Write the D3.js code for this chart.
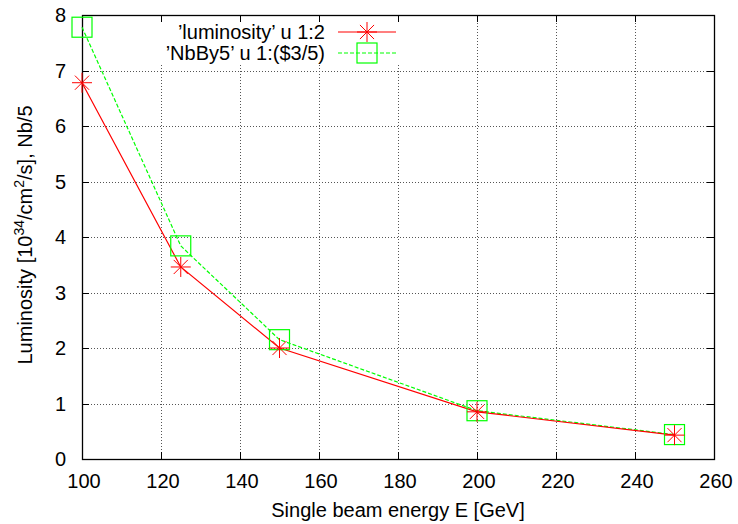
<!DOCTYPE html>
<html>
<head>
<meta charset="utf-8">
<script src="https://cdn.jsdelivr.net/npm/d3@7"></script>
<style>
  body { margin: 0; background: #fff; }
  svg { display: block; font-family: "Liberation Sans", Arial, sans-serif; }
</style>
</head>
<body>
<div class="wrapper"></div>
<script>
const WIDTH = 738
const HEIGHT = 524
const margin = {left: 82, right: 24, top: 15, bottom: 65}

// beam energies (GeV)
var energy = [100, 125, 150, 200, 250]
// luminosity [10^34 /cm^2/s]
var luminosity = [6.78, 3.46, 2.0, 0.85, 0.43]
// number of bunches / 5
var nbBy5 = [7.78, 3.84, 2.15, 0.87, 0.44]

var xTicks = [100, 120, 140, 160, 180, 200, 220, 240, 260]
var yTicks = [0, 1, 2, 3, 4, 5, 6, 7, 8]

var seriesNames = ['\u2019luminosity\u2019 u 1:2', '\u2019NbBy5\u2019 u 1:($3/5)']
var seriesColors = ['#ff0000', '#00ff00']

var svg = d3.select(".wrapper")
    .append("svg")
    .attr("width", WIDTH)
    .attr("height", HEIGHT)

var x = d3.scaleLinear([100, 260], [margin.left, WIDTH - margin.right])
var y = d3.scaleLinear([0, 8], [HEIGHT - margin.bottom, margin.top])

var x0 = x.range()[0], x1 = x.range()[1]
var y0 = y.range()[0], y1 = y.range()[1]
var tickLen = 7
var fontSize = "20px"

// grid
var grid = svg.append("g").attr("class", "grid")
    .style("stroke", "#555")
    .style("stroke-width", 1)
    .style("stroke-dasharray", "1,2")
grid.selectAll("line.v")
    .data(xTicks.slice(1, -1))
    .join("line")
    .attr("class", "v")
    .attr("x1", d => x(d) + 0.5).attr("x2", d => x(d) + 0.5)
    .attr("y1", y0).attr("y2", y1)
grid.selectAll("line.h")
    .data(yTicks.slice(1, -1))
    .join("line")
    .attr("class", "h")
    .attr("x1", x0).attr("x2", x1)
    .attr("y1", d => Math.round(y(d)) + 0.5).attr("y2", d => Math.round(y(d)) + 0.5)

// legend area clears the grid
svg.append("rect")
    .attr("x", 118).attr("y", y1 + 1)
    .attr("width", 292).attr("height", 49)
    .attr("fill", "#fff")

// ticks on all four sides
var ticks = svg.append("g").style("stroke", "#000").style("stroke-width", 1)
xTicks.forEach(function(t) {
    var px = Math.round(x(t)) + 0.5
    ticks.append("line").attr("x1", px).attr("x2", px).attr("y1", y0).attr("y2", y0 - tickLen)
    ticks.append("line").attr("x1", px).attr("x2", px).attr("y1", y1).attr("y2", y1 + tickLen)
})
yTicks.forEach(function(t) {
    var py = Math.round(y(t)) + 0.5
    ticks.append("line").attr("x1", x0).attr("x2", x0 + tickLen).attr("y1", py).attr("y2", py)
    ticks.append("line").attr("x1", x1).attr("x2", x1 - tickLen).attr("y1", py).attr("y2", py)
})

// frame
svg.append("rect")
    .attr("x", x0 + 0.5).attr("y", y1 + 0.5)
    .attr("width", x1 - x0).attr("height", y0 - y1)
    .attr("fill", "none")
    .attr("stroke", "#000")
    .attr("stroke-width", 1.3)

// tick labels
svg.append("g").selectAll("text")
    .data(xTicks)
    .join("text")
    .attr("x", d => x(d) + 2)
    .attr("y", y0 + 29)
    .attr("text-anchor", "middle")
    .style("font-size", fontSize)
    .text(d => d)
svg.append("g").selectAll("text")
    .data(yTicks)
    .join("text")
    .attr("x", x0 - 16)
    .attr("y", d => y(d) + 7)
    .attr("text-anchor", "end")
    .style("font-size", fontSize)
    .text(d => d)

// axis titles
svg.append("text")
    .attr("x", 398)
    .attr("y", 517)
    .attr("text-anchor", "middle")
    .style("font-size", fontSize)
    .text("Single beam energy E [GeV]")

var yt = svg.append("text")
    .attr("transform", "translate(32,235) rotate(-90)")
    .attr("text-anchor", "middle")
    .style("font-size", fontSize)
yt.append("tspan").text("Luminosity [10")
yt.append("tspan").attr("dy", -8).style("font-size", "14px").text("34")
yt.append("tspan").attr("dy", 8).text("/cm")
yt.append("tspan").attr("dy", -8).style("font-size", "14px").text("2")
yt.append("tspan").attr("dy", 8).text("/s], Nb/5")

// markers
function star(g, cx, cy, r, color) {
    var d = r * Math.SQRT1_2
    var p = "M" + (cx - r) + "," + cy + "H" + (cx + r) +
            "M" + cx + "," + (cy - r) + "V" + (cy + r) +
            "M" + (cx - d) + "," + (cy - d) + "L" + (cx + d) + "," + (cy + d) +
            "M" + (cx - d) + "," + (cy + d) + "L" + (cx + d) + "," + (cy - d)
    g.append("path").attr("d", p).attr("stroke", color).attr("stroke-width", 1).attr("fill", "none")
}
function square(g, cx, cy, r, color) {
    g.append("rect").attr("x", cx - r).attr("y", cy - r)
        .attr("width", 2 * r).attr("height", 2 * r)
        .attr("fill", "none").attr("stroke", color).attr("stroke-width", 1.2)
}

var line = d3.line().x(d => x(d[0])).y(d => y(d[1]))
var data = [
    d3.zip(energy, luminosity),
    d3.zip(energy, nbBy5)
]
var dashes = [null, "4,2"]
var markers = [star, square]

var plot = svg.append("g")
// draw green first, then red on top
for (var i = 1; i >= 0; i--) {
    plot.append("path")
        .datum(data[i])
        .attr("d", line)
        .attr("fill", "none")
        .attr("stroke", seriesColors[i])
        .attr("stroke-width", 1.2)
        .attr("stroke-dasharray", dashes[i])
}
for (var i = 1; i >= 0; i--) {
    data[i].forEach(function(p) {
        markers[i](plot, x(p[0]), y(p[1]), 10, seriesColors[i])
    })
}

// legend
var legY = [32, 53]
var leg = svg.append("g")
seriesNames.forEach(function(name, i) {
    leg.append("text")
        .attr("x", 325)
        .attr("y", legY[i] + 7)
        .attr("text-anchor", "end")
        .style("font-size", fontSize)
        .text(name)
    leg.append("line")
        .attr("x1", 338).attr("x2", 396)
        .attr("y1", legY[i]).attr("y2", legY[i])
        .attr("stroke", seriesColors[i])
        .attr("stroke-width", 1.2)
        .attr("stroke-dasharray", dashes[i])
    markers[i](leg, 367, legY[i], 10, seriesColors[i])
})
</script>
</body>
</html>
